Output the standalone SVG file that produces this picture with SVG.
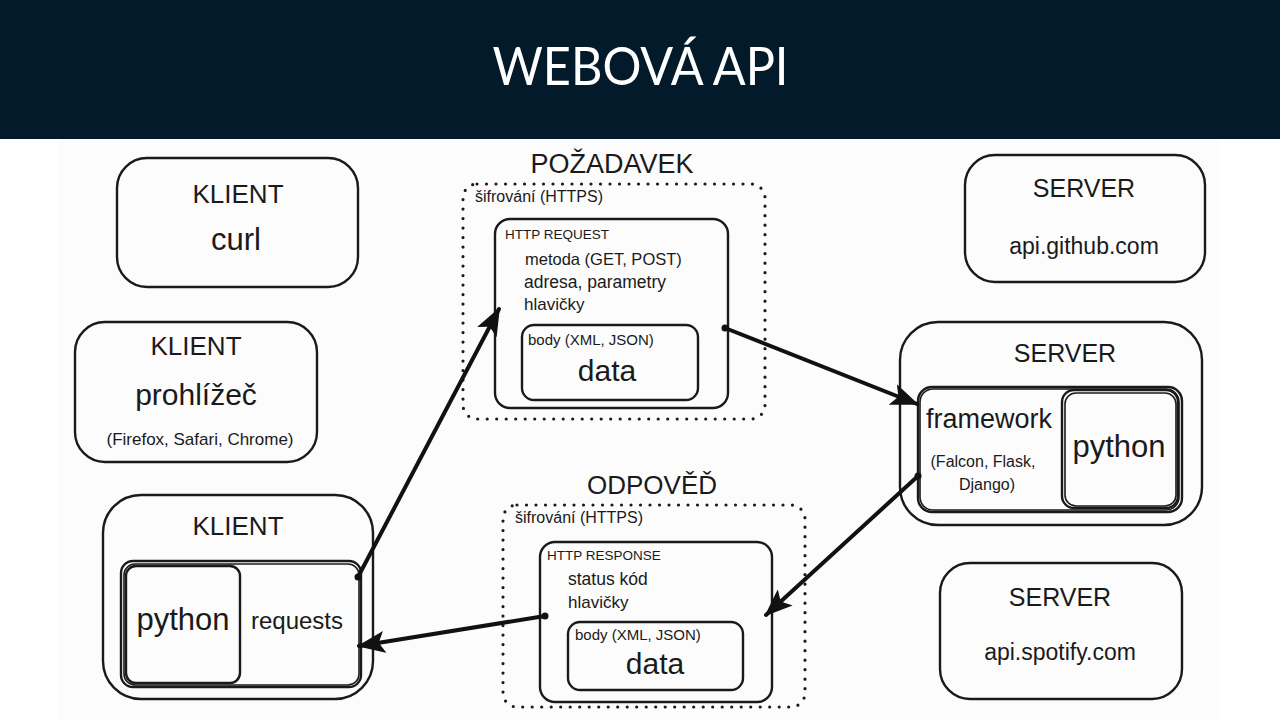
<svg xmlns="http://www.w3.org/2000/svg" width="1280" height="720" viewBox="0 0 1280 720">
<defs>
<style>
.box{fill:none;stroke:#1a1a1a;stroke-width:2.4;stroke-linejoin:round}
.box2{fill:none;stroke:#1a1a1a;stroke-width:1.6}
.dot{fill:none;stroke:#1a1a1a;stroke-width:3.2;stroke-linecap:round;stroke-dasharray:0 9.5}
.t{font-family:"Liberation Sans",Arial,sans-serif;fill:#1a1a1a}
.c{text-anchor:middle}
.edge{fill:none;stroke:#111;stroke-width:4;stroke-linecap:round}
</style>
<marker id="ah" viewBox="0 0 28 22" refX="26" refY="11" markerWidth="28" markerHeight="22" markerUnits="userSpaceOnUse" orient="auto">
<path d="M0,0 L28,11 L0,22 L6,11 Z" fill="#111"/>
</marker>
<marker id="st" viewBox="0 0 8 8" refX="4" refY="4" markerWidth="8" markerHeight="8" markerUnits="userSpaceOnUse">
<circle cx="4" cy="4" r="3.5" fill="#111"/>
</marker>
</defs>

<rect x="0" y="0" width="1280" height="720" fill="#ffffff"/>
<rect x="59" y="139" width="1161" height="581" fill="#fcfcfc"/>

<g id="header">
<rect x="0" y="0" width="1280" height="139" fill="#031a2a"/>
<text x="640.5" y="85" text-anchor="middle" font-family="Lato,'Open Sans',sans-serif" font-size="53" textLength="296" lengthAdjust="spacingAndGlyphs" fill="#ffffff">WEBOVÁ API</text>
</g>

<g id="klient-curl">
<rect class="box" x="117" y="158" width="241" height="129" rx="30"/>
<text class="t c" x="238" y="203" font-size="26">KLIENT</text>
<text class="t c" x="236" y="250" font-size="31">curl</text>
</g>

<g id="klient-prohlizec">
<rect class="box" x="75" y="322" width="242" height="140" rx="30"/>
<text class="t c" x="196" y="355" font-size="26">KLIENT</text>
<text class="t c" x="196" y="405" font-size="30">prohlížeč</text>
<text class="t c" x="200" y="445" font-size="17">(Firefox, Safari, Chrome)</text>
</g>

<g id="klient-python">
<rect class="box" x="103" y="495" width="270" height="204" rx="38"/>
<text class="t c" x="238" y="535" font-size="26">KLIENT</text>
<rect class="box" x="121" y="561" width="240" height="126" rx="12"/>
<rect class="box2" x="124" y="564" width="235" height="121" rx="11"/>
<rect class="box" x="126" y="566" width="114" height="117" rx="10"/>
<text class="t c" x="183" y="630" font-size="31">python</text>
<text class="t c" x="297" y="629" font-size="24">requests</text>
</g>

<g id="pozadavek">
<text class="t c" x="612" y="173" font-size="27">POŽADAVEK</text>
<rect class="dot" x="463" y="184" width="302" height="235" rx="14"/>
<text class="t" x="475" y="202" font-size="16">šifrování (HTTPS)</text>
<rect class="box" x="495" y="219" width="233" height="189" rx="15"/>
<text class="t" x="505" y="239" font-size="13.5">HTTP REQUEST</text>
<text class="t" x="525" y="265" font-size="16.5">metoda (GET, POST)</text>
<text class="t" x="524" y="288" font-size="17.5">adresa, parametry</text>
<text class="t" x="524" y="310" font-size="17">hlavičky</text>
<rect class="box" x="522" y="325" width="176" height="75" rx="12"/>
<text class="t" x="528" y="345" font-size="15">body (XML, JSON)</text>
<text class="t c" x="607" y="381" font-size="30">data</text>
</g>

<g id="odpoved">
<text class="t c" x="652" y="494" font-size="26">ODPOVĚĎ</text>
<rect class="dot" x="503" y="505" width="302" height="202" rx="14"/>
<text class="t" x="515" y="523" font-size="16">šifrování (HTTPS)</text>
<rect class="box" x="540" y="542" width="232" height="160" rx="15"/>
<text class="t" x="547" y="560" font-size="13.5">HTTP RESPONSE</text>
<text class="t" x="568" y="585" font-size="17.5">status kód</text>
<text class="t" x="568" y="608" font-size="17">hlavičky</text>
<rect class="box" x="568" y="622" width="175" height="68" rx="12"/>
<text class="t" x="575" y="640" font-size="15">body (XML, JSON)</text>
<text class="t c" x="655" y="674" font-size="30">data</text>
</g>

<g id="server-github">
<rect class="box" x="965" y="155" width="240" height="127" rx="30"/>
<text class="t c" x="1084" y="197" font-size="25">SERVER</text>
<text class="t c" x="1084" y="254" font-size="23">api.github.com</text>
</g>

<g id="server-python">
<rect class="box" x="900" y="322" width="302" height="203" rx="38"/>
<text class="t c" x="1065" y="362" font-size="25">SERVER</text>
<rect class="box" x="918" y="387" width="264" height="125" rx="14"/>
<rect class="box2" x="920" y="389" width="259" height="121" rx="13"/>
<rect class="box" x="1062" y="390" width="116" height="118" rx="12"/>
<rect class="box2" x="1065" y="393" width="111" height="113" rx="11"/>
<text class="t c" x="989" y="428" font-size="27">framework</text>
<text class="t c" x="983" y="467" font-size="16">(Falcon, Flask,</text>
<text class="t c" x="987" y="490" font-size="16">Django)</text>
<text class="t c" x="1119" y="457" font-size="31">python</text>
</g>

<g id="server-spotify">
<rect class="box" x="940" y="563" width="242" height="136" rx="30"/>
<text class="t c" x="1060" y="606" font-size="25">SERVER</text>
<text class="t c" x="1060" y="660" font-size="23">api.spotify.com</text>
</g>

<g id="connectors">
<path class="edge" d="M358,577 L499,309" marker-start="url(#st)" marker-end="url(#ah)"/>
<path class="edge" d="M725,328 L917,404" marker-start="url(#st)" marker-end="url(#ah)"/>
<path class="edge" d="M918,476 L766,615" marker-start="url(#st)" marker-end="url(#ah)"/>
<path class="edge" d="M545,616 L359,646" marker-start="url(#st)" marker-end="url(#ah)"/>
</g>
</svg>
